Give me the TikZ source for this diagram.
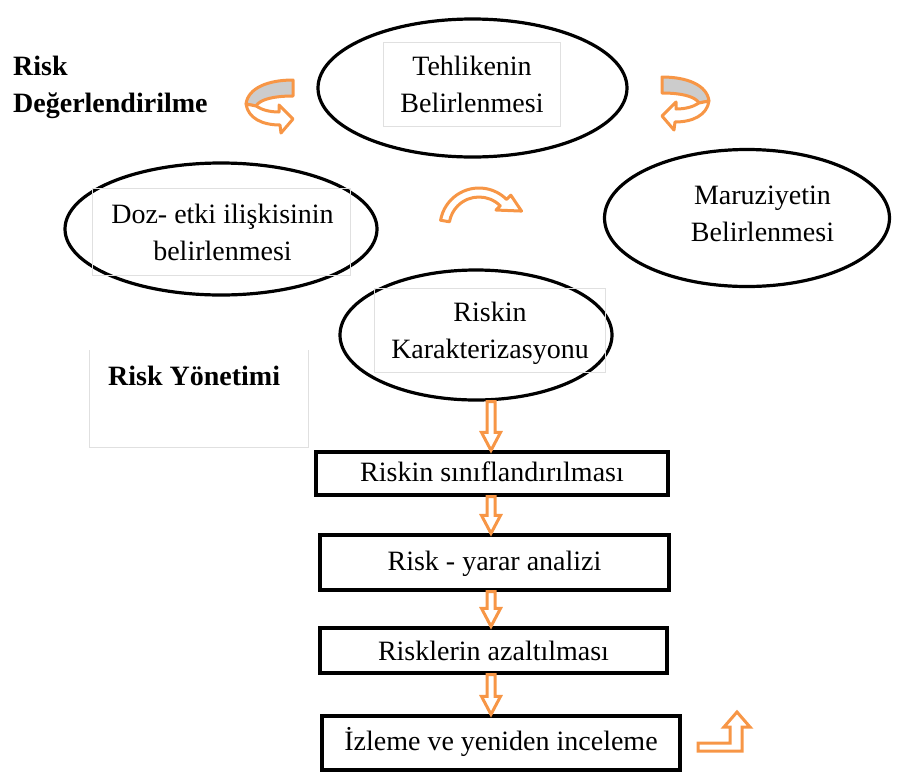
\documentclass[tikz,border=0pt]{standalone}
\usepackage{fontspec}
\setmainfont{Liberation Serif}
\usetikzlibrary{shapes.geometric,calc}
\definecolor{arrorange}{HTML}{F79646}
\definecolor{bandgrey}{HTML}{CCCCCC}
\definecolor{boxgrey}{HTML}{E0E0E0}
\newcommand\bodyfont{\fontsize{28}{37}\selectfont}
\newcommand\blockdown[2]{%
  \draw[blockarrow] ($#1+(-4,0)$) -- ($#2+(-4,-18)$) -- ($#2+(-9.5,-18)$) -- #2
    -- ($#2+(9.5,-18)$) -- ($#2+(4,-18)$) -- ($#1+(4,0)$) -- cycle;}
\begin{document}
\begin{tikzpicture}[x=1pt,y=-1pt,
  oval/.style={ellipse, draw=black, line width=3.2pt, inner sep=0pt},
  stepbox/.style={rectangle, draw=black, line width=3.2pt, inner sep=0pt, font=\bodyfont, text height=20pt, text depth=5pt},
  txt/.style={align=center, font=\bodyfont, inner sep=0pt},
  greybox/.style={rectangle, draw=boxgrey, line width=1pt, inner sep=0pt},
  ribbon/.style={draw=arrorange, line width=3pt, line join=round},
  blockarrow/.style={draw=arrorange, fill=white, line width=3pt, line join=miter},
  heading/.style={font=\bodyfont\bfseries, inner sep=0pt, anchor=base west}]
\useasboundingbox (0,0) rectangle (906,772);

% ellipses
\node[oval, minimum width=309pt, minimum height=138pt] (te) at (472.5,88) {};
\node[oval, minimum width=312pt, minimum height=132pt] (doz) at (221,229) {};
\node[oval, minimum width=285pt, minimum height=137pt] (mar) at (747,218) {};
\node[oval, minimum width=272pt, minimum height=130pt] (rk) at (476,335) {};

% grey text boxes
\node[greybox, minimum width=177pt, minimum height=84pt] (teb) at (471.5,84) {};
\node[greybox, minimum width=258pt, minimum height=87pt] (dozb) at (221,231.5) {};
\node[greybox, minimum width=231pt, minimum height=84pt] (rkb) at (489.5,330) {};
\draw[boxgrey, line width=1pt] (89,350) -- (89,447) -- (308,447) -- (308,350);

% texts
\node[txt] (tet) at (472,84) {Tehlikenin\\Belirlenmesi};
\node[txt] (dozt) at (222.5,232) {Doz- etki ilişkisinin\\belirlenmesi};
\node[txt] (mart) at (762.5,214) {Maruziyetin\\Belirlenmesi};
\node[txt] (rkt) at (490,333) {Riskin\\Karakterizasyonu};

\node[heading] (rd1) at (13,75) {Risk};
\node[heading] (rd2) at (13,112) {Değerlendirilme};
\node[heading] (ry) at (108,385) {Risk Yönetimi};

% step boxes
\node[stepbox, minimum width=352pt, minimum height=43pt] (b1) at (492,473.5) {Riskin sınıflandırılması};
\node[stepbox, minimum width=349pt, minimum height=55pt] (b2) at (494.5,562.5) {Risk - yarar analizi};
\node[stepbox, minimum width=347pt, minimum height=45pt, text depth=0pt] (b3) at (493.5,650.5) {Risklerin azaltılması};
\node[stepbox, minimum width=358pt, minimum height=54pt] (b4) at (501,743) {İzleme ve yeniden inceleme};

% down block arrows
\coordinate (ax) at (491,0);
\blockdown{(rk.south -| ax)}{(b1.north -| ax)}
\blockdown{(b1.south -| ax)}{(b2.north -| ax)}
\blockdown{(b2.south -| ax)}{(b3.north -| ax)}
\blockdown{(b3.south -| ax)}{(b4.north -| ax)}

% left curved arrow
\draw[ribbon, fill=bandgrey] (293,80) .. controls (268,80) and (248,88) .. (246,104)
  -- (256,106) .. controls (260,99) and (275,96) .. (293,96) -- cycle;
\draw[ribbon, fill=white] (256,106) .. controls (262,110) and (270,112) .. (279,112)
  -- (279,105) -- (293,119) -- (281,133) -- (280,125)
  .. controls (262,125) and (248,118) .. (246,104) -- cycle;

% right curved arrow
\draw[ribbon, fill=bandgrey] (662,77) .. controls (687,77) and (707,85) .. (709,101)
  -- (699,103) .. controls (695,96) and (680,93) .. (662,93) -- cycle;
\draw[ribbon, fill=white] (699,103) .. controls (693,107) and (685,109) .. (676,109)
  -- (676,102) -- (662,116) -- (674,130) -- (675,122)
  .. controls (693,122) and (707,115) .. (709,101) -- cycle;

% middle curved arrow
\begin{scope}[shift={(479,227)}]
\draw[ribbon, fill=white] (190:39) arc[start angle=190, end angle=315, radius=39]
  -- (315:45) -- ($(315:34.5)+(25:20)$) -- (315:24) -- (315:30)
  arc[start angle=315, end angle=190, radius=30] -- cycle;
\end{scope}

% bottom right bent arrow
\draw[blockarrow] (698,743) -- (730,743) -- (730,727) -- (724,727) -- (737,712)
  -- (750,727) -- (742,727) -- (742,751) -- (698,751) -- cycle;
\end{tikzpicture}
\end{document}
